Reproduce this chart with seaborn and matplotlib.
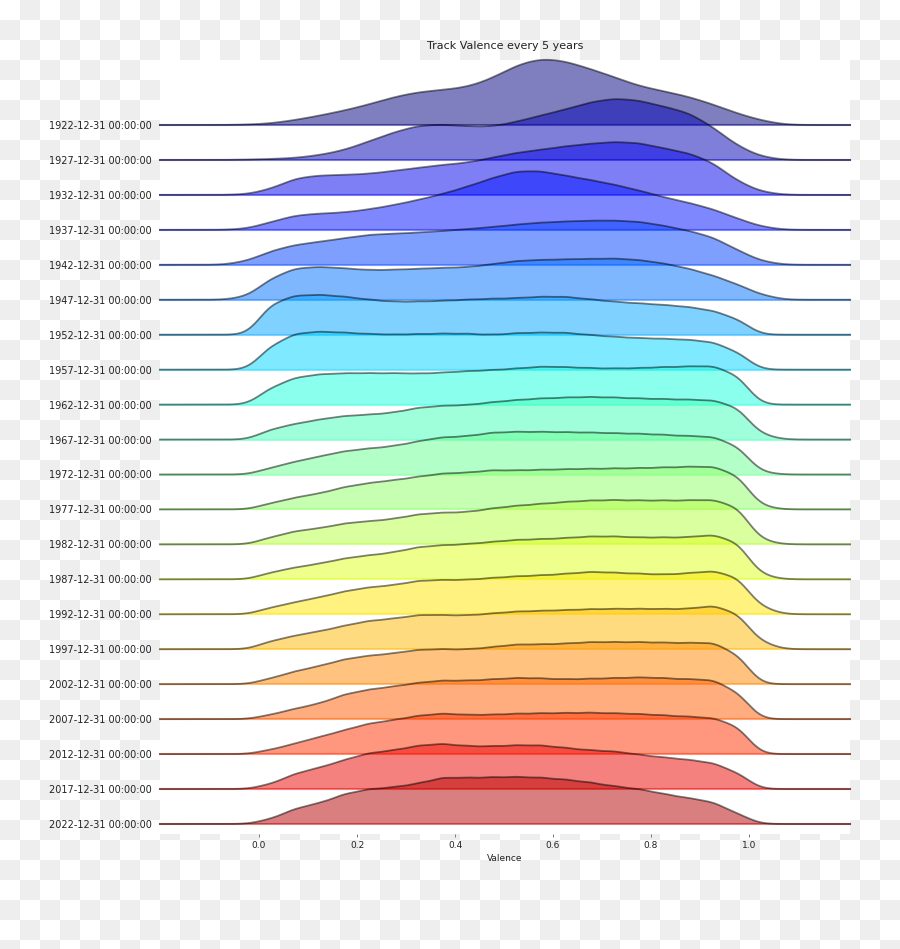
import numpy as np
import matplotlib
matplotlib.use("Agg")
import matplotlib.pyplot as plt
import seaborn as sns

# valence bin centres (same for every year)
valence = [-0.025, 0.025, 0.075, 0.125, 0.175, 0.225, 0.275, 0.325, 0.375, 0.425, 0.475,
           0.525, 0.575, 0.625, 0.675, 0.725, 0.775, 0.825, 0.875, 0.925, 0.975, 1.025]

years = [1922, 1927, 1932, 1937, 1942, 1947, 1952, 1957, 1962, 1967, 1972,
         1977, 1982, 1987, 1992, 1997, 2002, 2007, 2012, 2017, 2022]
labels = [f"{y}-12-31 00:00:00" for y in years]

# relative density of tracks per valence bin
d1922 = [0.3, 1.5, 5, 9.5, 14.5, 20.5, 28, 33, 35, 37.5, 46, 60, 67, 64, 56, 48, 38.5, 34, 28.5, 21, 11.5, 4.5]
d1927 = [0.3, 1, 2, 5, 10, 19, 28, 35, 36, 34, 33.5, 38.5, 45, 51, 58.5, 62.5, 60.5, 54, 48.5, 34, 14.5, 3]
d1932 = [0.5, 6, 17, 19.5, 20, 21, 24, 27, 30, 32, 37, 42, 45, 48.5, 51, 53, 52, 46.5, 42, 33, 14, 3]
d1937 = [1, 7.5, 14, 15.5, 16.5, 19.5, 23.5, 28.5, 34, 41, 49, 56, 56, 51.5, 47.5, 43, 37.5, 31, 26, 20, 11, 3]
d1942 = [3.5, 14, 20, 23, 26.5, 30, 31, 32, 33.5, 35.5, 37.5, 40, 42, 43, 44, 44, 43, 39, 34, 28, 15, 3.5]
d1947 = [3, 22, 32.5, 33.5, 32, 30, 30.5, 31.5, 32.5, 33, 36, 39.5, 40.5, 41, 41.5, 42, 40.5, 37, 32, 25, 16, 5]
d1952 = [0, 31, 39, 39.5, 37.5, 34.5, 32.5, 32.7, 33.5, 34.5, 35.5, 36, 37.5, 37.5, 35, 32.5, 31, 29.5, 27.5, 24, 16, 0]
d1957 = [0, 24, 36, 37.5, 36.5, 35, 34.5, 35, 35.5, 35.5, 34, 36, 36.5, 36.5, 34, 32.5, 31, 30.5, 29.5, 27.5, 18, 0]
d1962 = [0, 17, 27, 30, 31, 31, 31, 30.5, 31.5, 33, 34, 35.5, 37.5, 37, 36, 35.5, 36, 37, 37.5, 38.5, 30, 0]
d1967 = [0, 11, 16.7, 21.3, 25, 26.3, 28.3, 33.7, 35.7, 36.3, 39.3, 41.7, 43.3, 44.3, 45, 44.3, 43.3, 42.7, 42, 41.7, 35, 5]
d1972 = [0, 7, 13.3, 18.7, 24, 26.7, 29, 34, 38.3, 39, 43, 43.7, 43.7, 43.3, 43, 42.3, 41.7, 40.7, 39.3, 39, 30, 2]
d1977 = [0, 6.5, 12.3, 16.3, 23, 27, 29.7, 33.3, 36.7, 37.3, 40, 39.7, 40.3, 41, 41.3, 41.7, 42, 42.7, 43.3, 44, 36, 3]
d1982 = [0, 7.5, 14, 16.7, 22, 24, 26.3, 31.3, 33, 33.3, 37.3, 40, 42, 44, 45.5, 46, 45.5, 45.5, 45.5, 46.5, 40, 4]
d1987 = [0, 7, 12, 15.7, 21, 24, 26.7, 32.3, 34, 35, 37.3, 39.3, 40, 41, 42.7, 42.7, 41.7, 41.7, 41.7, 44.7, 38, 4]
d1992 = [0, 7, 12.3, 17.3, 23.3, 27.3, 29.3, 34, 34.7, 34.7, 36.7, 38.3, 39.3, 40.7, 43, 42, 41, 40, 41.3, 44, 38.5, 7]
d1997 = [0, 8.5, 14, 18.3, 24, 29, 31, 35, 34.7, 34.3, 36.3, 38.3, 39, 39.7, 40.7, 41, 41, 41, 40.7, 44.7, 37.5, 7]
d2002 = [0, 6, 13.3, 18.3, 25.3, 28.7, 31, 34.7, 35.3, 34.7, 37.3, 40, 40, 40.7, 42.3, 42.3, 42.3, 41.7, 41.3, 42.3, 31, 0]
d2007 = [0, 4.5, 10.7, 15.7, 25, 29.7, 32.7, 36.3, 38.7, 38.3, 39.7, 41.3, 40.7, 39.7, 40.3, 41, 41.7, 41, 39.7, 39.7, 28, 0]
d2012 = [0, 4.5, 10.7, 17.3, 24, 30.7, 34, 38.3, 40.7, 39, 39.3, 40.3, 40.7, 41, 41.3, 40.7, 40, 38.7, 37.3, 36.3, 29, 0]
d2017 = [0, 5, 15.7, 21.3, 29, 35.7, 38.3, 43, 45, 42.3, 42.3, 43.3, 43.3, 40.7, 38.3, 37.3, 34, 31.3, 29, 26.3, 16.7, 0]
d2022 = [0, 5, 15.7, 20.7, 30, 34.7, 36.3, 40, 46.3, 45.7, 46.3, 46.7, 46, 44, 41.3, 37.3, 34.7, 30, 25.7, 22.3, 10.5, 0]

ridges = [d1922, d1927, d1932, d1937, d1942, d1947, d1952, d1957, d1962, d1967, d1972,
          d1977, d1982, d1987, d1992, d1997, d2002, d2007, d2012, d2017, d2022]

# kernel width (in valence units) per year: fewer tracks early on -> smoother curves
kernel = [0.034, 0.031, 0.03, 0.03, 0.03, 0.029] + [0.028] * 15

W, H = 900, 949
fig = plt.figure(figsize=(W / 100, H / 100), dpi=100)

# transparent-looking checkerboard behind everything
rr = np.arange(H)[:, None] // 20
cc = np.arange(W)[None, :] // 20
chk = np.where((rr + cc) % 2 == 1, 0.937, 1.0)
fig.figimage(np.dstack([chk, chk, chk]), 0, 0, origin="upper", zorder=-5)

x_lo, x_hi = -0.202, 1.206
left_px, right_px = 160, 850
top_px, first_base, step = 60, 125, 34.95
below, above = 10, 66           # px below / above each baseline
px_per_unit = 33.3              # pixels per unit density

last_base = first_base + step * (len(years) - 1)
fig.add_artist(plt.Rectangle((left_px / W, 1 - (last_base + below) / H),
                             (right_px - left_px) / W, (last_base + below - top_px) / H,
                             transform=fig.transFigure, facecolor="white",
                             edgecolor="none", zorder=-1))

cmap = plt.get_cmap("jet")
x = np.array(valence)

for i, (lab, w) in enumerate(zip(labels, ridges)):
    base = first_base + step * i
    ax = fig.add_axes([left_px / W, 1 - (base + below) / H,
                       (right_px - left_px) / W, (below + above) / H])
    ax.patch.set_visible(False)
    w = np.array(w, dtype=float)
    bw = kernel[i] / np.sqrt(np.cov(x, aweights=w))
    col = cmap(i / len(years))

    sns.kdeplot(x=x, weights=w, bw_method=bw, cut=12, clip=(x_lo, x_hi), gridsize=500,
                fill=True, color=col, alpha=0.5, linewidth=0, edgecolor="none", ax=ax)
    ax.axhline(0, color=col, alpha=0.5, lw=1.5)
    sns.kdeplot(x=x, weights=w, bw_method=bw, cut=12, clip=(x_lo, x_hi), gridsize=500,
                color="black", alpha=0.5, linewidth=1.3, ax=ax)
    for art in ax.collections + ax.lines:
        art.set_clip_on(False)

    ax.set_xlim(x_lo, x_hi)
    ax.set_ylim(-below / px_per_unit, above / px_per_unit)
    for sp in ax.spines.values():
        sp.set_visible(False)
    ax.set_ylabel("")
    ax.set_xlabel("")
    ax.set_yticks([0])
    ax.set_yticklabels([lab], fontsize=7, color="#222222")
    ax.tick_params(axis="y", length=0, pad=5.8)

    if i == len(years) - 1:
        ticks = [0.0, 0.2, 0.4, 0.6, 0.8, 1.0]
        ax.set_xticks(ticks)
        ax.set_xticklabels([f"{t:.1f}" for t in ticks], fontsize=6.5, color="#222222")
        ax.tick_params(axis="x", length=2.2, width=0.6, color="#666666", pad=2.5)
        ax.set_xlabel("Valence", fontsize=6.5, labelpad=3, color="#222222")
    else:
        ax.set_xticks([])

fig.text(505 / W, 1 - 46 / H, "Track Valence every 5 years", ha="center", va="center",
         fontsize=8, color="#222222")

fig.savefig("out.png", dpi=100)
